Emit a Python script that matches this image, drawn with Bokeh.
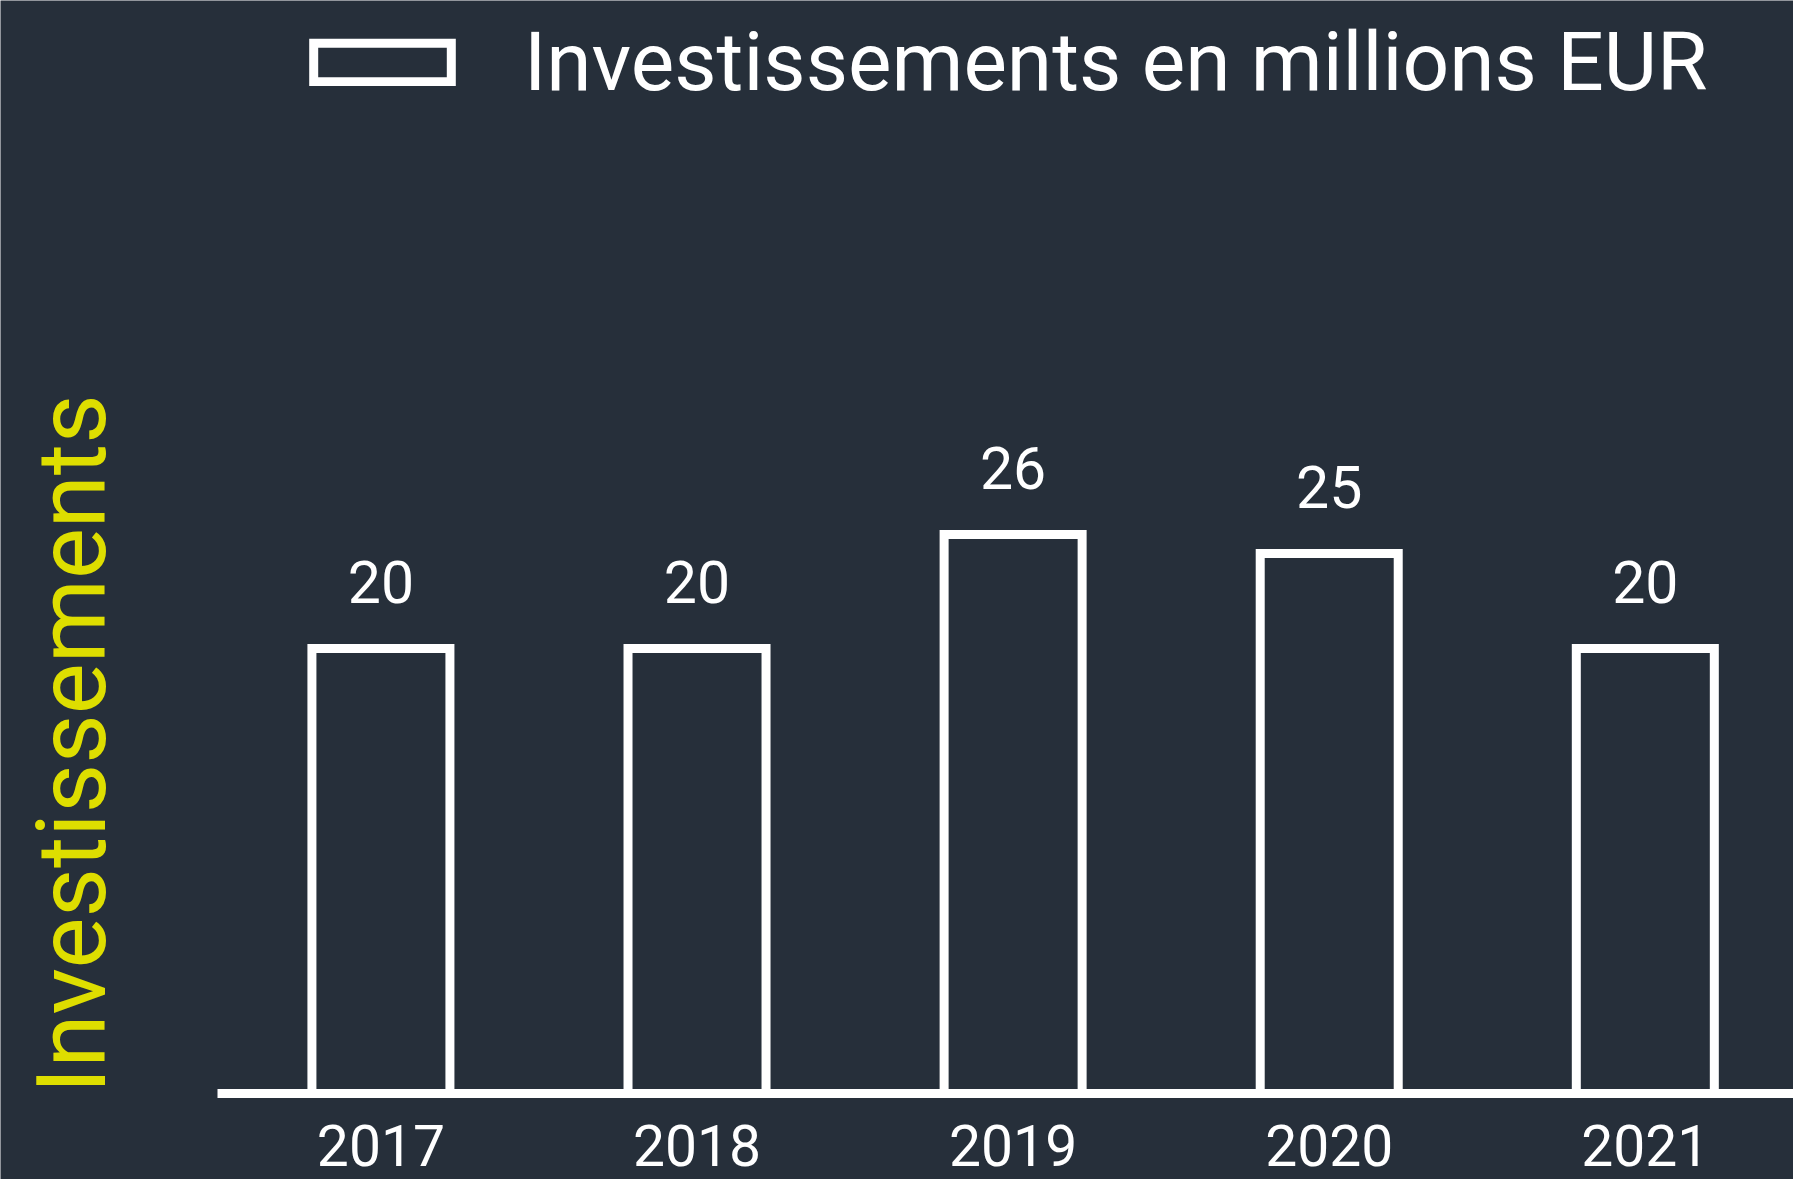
import math
from bokeh.plotting import figure
from bokeh.models import Range1d, Legend, LegendItem, ColumnDataSource
from bokeh.core.properties import value
from bokeh.embed import file_html
from bokeh.resources import INLINE

# ---- data ----
years = ["2017", "2018", "2019", "2020", "2021"]
investments = [20, 20, 26, 25, 20]
series_name = "Investissements en millions EUR"
y_title = "Investissements"

# ---- style ----
BG = "#262f3a"
YELLOW = "#dede00"
FONT = "Roboto"

xs = list(range(len(years)))
base = -3.42          # baseline of the value scale
x_start, x_end = -1.2035, 4.4688
y_start, y_end = -7.946, 54.106
axis_x0 = xs[0] - 0.517   # where the baseline starts

src = ColumnDataSource(dict(
    x=xs,
    top=investments,
    label=[str(v) for v in investments],
    year=years,
))

p = figure(
    width=1793, height=1179,
    output_backend="svg", toolbar_location=None,
    x_range=Range1d(x_start, x_end),
    y_range=Range1d(y_start, y_end),
    min_border_left=0, min_border_right=0,
    min_border_top=0, min_border_bottom=0,
    background_fill_color=BG, border_fill_color=BG,
    outline_line_color=None,
)
p.xgrid.visible = False
p.ygrid.visible = False
p.axis.visible = False

# bars
r = p.vbar(x="x", top="top", bottom=base, width=0.4366, source=src,
           fill_color=None, line_color="white", line_width=9,
           line_join="miter")

# baseline (x axis line)
p.segment(x0=axis_x0, y0=base, x1=x_end, y1=base,
          line_color="white", line_width=9, line_cap="butt")

# value labels
p.text(x="x", y="top", text="label", source=src,
       text_align="center", text_baseline="alphabetic", y_offset=-67,
       text_color="white", text_font_size="59px", text_font=value(FONT))

# year labels under the baseline
p.text(x="x", y=base, text="year", source=src,
       text_align="center", text_baseline="alphabetic", y_offset=52,
       text_color="white", text_font_size="57px", text_font=value(FONT))

# vertical title
p.text(x=[x_start], y=[base], text=[y_title], angle=math.pi / 2,
       text_align="left", text_baseline="alphabetic",
       x_offset=71, y_offset=0,
       text_color=YELLOW, text_font_size="96px", text_font=value(FONT))

legend = Legend(
    items=[LegendItem(label=series_name, renderers=[r])],
    location=(296, 1069),
    glyph_width=172, glyph_height=48,
    label_standoff=56, padding=0, margin=0, spacing=0,
    border_line_color=None, background_fill_alpha=0,
    label_text_font=FONT, label_text_font_size="82px",
    label_text_color="white",
)
p.add_layout(legend)

open("out.html", "w").write(file_html(p, INLINE))
